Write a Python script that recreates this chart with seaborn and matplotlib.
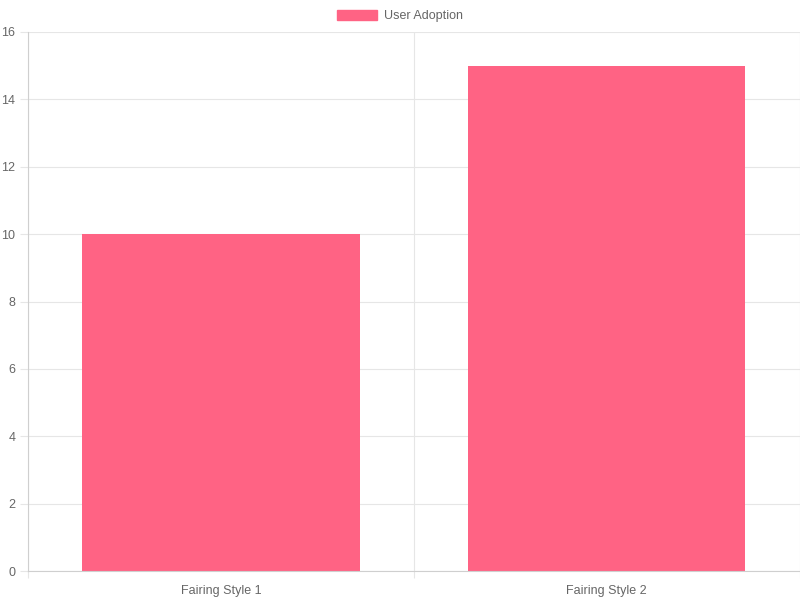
import matplotlib
matplotlib.use("Agg")
import matplotlib.pyplot as plt
import seaborn as sns
import pandas as pd
from matplotlib.patches import Patch

categories = ["Fairing Style 1", "Fairing Style 2"]
values = [10, 15]
series_name = "User Adoption"
y_ticks = [0, 2, 4, 6, 8, 10, 12, 14, 16]

sns.set_theme(style="white")
plt.rcParams['font.family'] = ['Liberation Sans', 'DejaVu Sans']

df = pd.DataFrame({"category": categories, "value": values})

fig = plt.figure(figsize=(8, 6), dpi=100)
ax = fig.add_axes([28/800, (600-571)/600, (799.5-28)/800, (571-32)/600])

color = (1.0, 99/255, 132/255)
sns.barplot(data=df, x="category", y="value", ax=ax, color=color, width=0.72,
            saturation=1, edgecolor=color, linewidth=0)

ax.set_xlim(-0.5, 1.5)
ax.set_ylim(0, 16)
ax.set_yticks(y_ticks)
ax.set_xlabel("")
ax.set_ylabel("")

grid_c = "#e6e6e6"
ax.set_xticks([-0.5, 0.5, 1.5], minor=True)
ax.grid(True, which="minor", axis="x", color=grid_c, linewidth=0.8)
ax.grid(True, which="major", axis="y", color=grid_c, linewidth=0.8)
ax.set_axisbelow(True)

for s in ["top", "right"]:
    ax.spines[s].set_visible(False)
for s in ["left", "bottom"]:
    ax.spines[s].set_color("#cfcfcf")
    ax.spines[s].set_linewidth(0.8)

ax.tick_params(axis="x", which="major", length=0, labelsize=9, labelcolor="#666666", pad=10)
ax.tick_params(axis="x", which="minor", length=5, color=grid_c, width=0.8, bottom=True)
ax.tick_params(axis="y", which="major", length=6, width=0.8, color=grid_c, labelsize=9,
               labelcolor="#666666", pad=3, left=True)

handles = [Patch(facecolor=color, edgecolor=color, label=series_name)]
fig.legend(handles=handles, loc="center", bbox_to_anchor=(0.5, 1 - 16/600),
           frameon=False, fontsize=9, labelcolor="#666666",
           handlelength=3.2, handleheight=0.9, handletextpad=0.5)

fig.savefig("out.png", dpi=100)
